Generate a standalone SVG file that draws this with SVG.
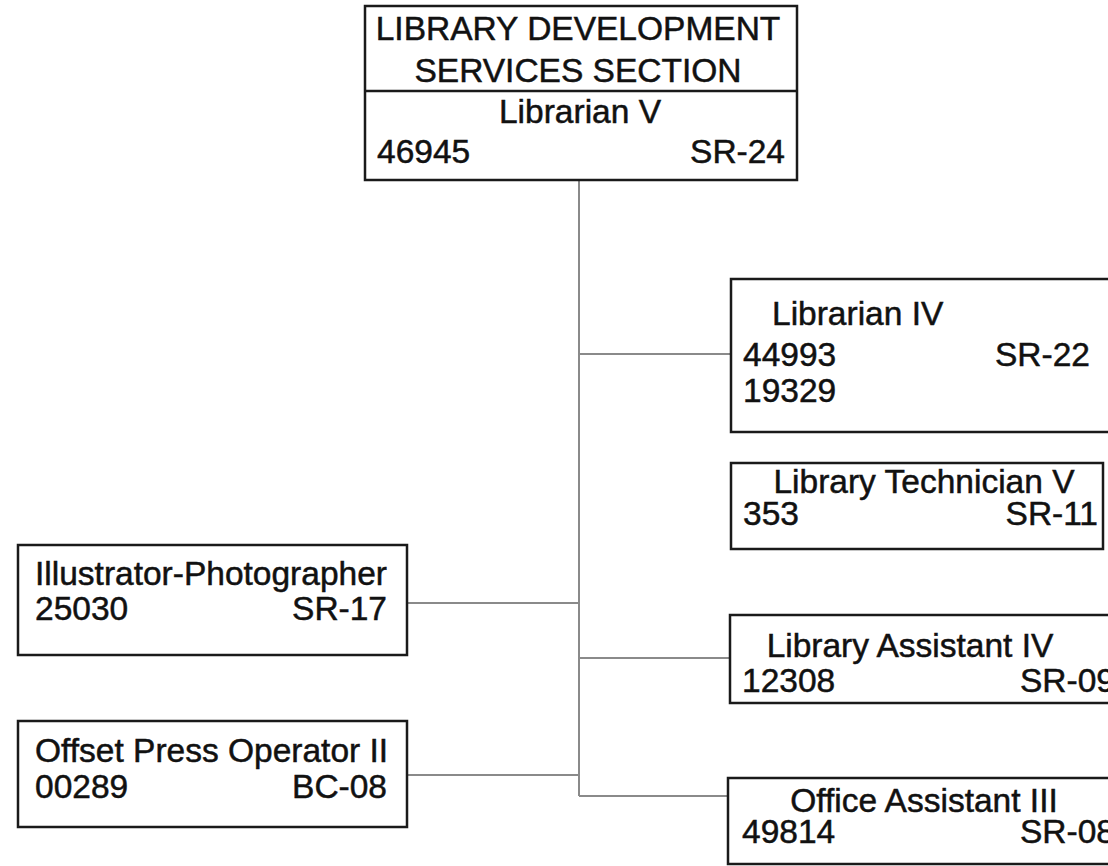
<svg xmlns="http://www.w3.org/2000/svg" width="1108" height="866" viewBox="0 0 1108 866">
<style>
.box{fill:#fff;stroke:#1a1a1a;stroke-width:2.5}
.t{font-family:"Liberation Sans",Arial,sans-serif;font-size:33.5px;fill:#111;stroke:#111;stroke-width:0.5}
.m{text-anchor:middle}
.e{text-anchor:end}
.c{stroke:#8a8a8a;stroke-width:2;fill:none}
</style>
<rect width="1108" height="866" fill="#fff"/>
<g id="connectors">
<line class="c" x1="579" y1="180" x2="579" y2="796"/>
<line class="c" x1="579" y1="354" x2="731" y2="354"/>
<line class="c" x1="407" y1="603" x2="579" y2="603"/>
<line class="c" x1="579" y1="658" x2="730" y2="658"/>
<line class="c" x1="407" y1="775" x2="579" y2="775"/>
<line class="c" x1="579" y1="796" x2="728" y2="796"/>
</g>
<g id="n-root">
<rect class="box" x="365" y="6" width="432" height="174"/>
<line class="box" x1="365" y1="91" x2="797" y2="91"/>
<text class="t m" x="578" y="40">LIBRARY DEVELOPMENT</text>
<text class="t m" x="578" y="82">SERVICES SECTION</text>
<text class="t m" x="580" y="123">Librarian V</text>
<text class="t" x="377" y="163">46945</text>
<text class="t e" x="785" y="163">SR-24</text>
</g>
<g id="n-librarian4">
<rect class="box" x="731" y="279" width="400" height="153"/>
<text class="t" x="772" y="325">Librarian IV</text>
<text class="t" x="743" y="366">44993</text>
<text class="t" x="995" y="366">SR-22</text>
<text class="t" x="743" y="402">19329</text>
</g>
<g id="n-techv">
<rect class="box" x="731" y="463" width="372" height="86"/>
<text class="t m" x="924" y="493">Library Technician V</text>
<text class="t" x="743" y="525">353</text>
<text class="t e" x="1098" y="525">SR-11</text>
</g>
<g id="n-assist4">
<rect class="box" x="730" y="615" width="400" height="88"/>
<text class="t m" x="910" y="657">Library Assistant IV</text>
<text class="t" x="742" y="692">12308</text>
<text class="t" x="1020" y="692">SR-09</text>
</g>
<g id="n-office3">
<rect class="box" x="728" y="778" width="400" height="86"/>
<text class="t m" x="924" y="812">Office Assistant III</text>
<text class="t" x="742" y="843">49814</text>
<text class="t" x="1020" y="843">SR-08</text>
</g>
<g id="n-illus">
<rect class="box" x="18" y="545" width="389" height="110"/>
<text class="t" x="35" y="585">Illustrator-Photographer</text>
<text class="t" x="35" y="620">25030</text>
<text class="t e" x="387" y="620">SR-17</text>
</g>
<g id="n-offset">
<rect class="box" x="18" y="721" width="389" height="106"/>
<text class="t" x="35" y="762">Offset Press Operator II</text>
<text class="t" x="35" y="798">00289</text>
<text class="t e" x="387" y="798">BC-08</text>
</g>
</svg>
